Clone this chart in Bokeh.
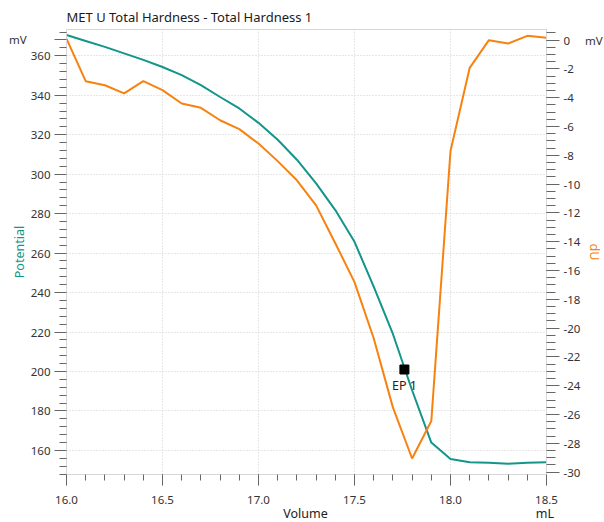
from bokeh.plotting import figure
from bokeh.models import (Range1d, LinearAxis, SingleIntervalTicker, FixedTicker,
                          PrintfTickFormatter, Label, ColumnDataSource)
from bokeh.embed import file_html
from bokeh.resources import INLINE

# ---- data ----
volume = [16.0, 16.1, 16.2, 16.3, 16.4, 16.5, 16.6, 16.7, 16.8, 16.9,
          17.0, 17.1, 17.2, 17.3, 17.4, 17.5, 17.6, 17.7, 17.8, 17.9,
          18.0, 18.1, 18.2, 18.3, 18.4, 18.5]
potential = [370.5, 367.5, 364.5, 361.2, 357.9, 354.3, 350.2, 345.1, 339.1, 333.3,
             326.0, 317.4, 307.3, 295.3, 281.8, 265.7, 243.0, 219.0, 190.5, 164.0,
             155.7, 154.0, 153.8, 153.3, 153.7, 154.0]
dU = [0.1, -2.85, -3.13, -3.7, -2.85, -3.47, -4.4, -4.7, -5.56, -6.18,
      -7.18, -8.4, -9.73, -11.47, -14.1, -16.8, -20.7, -25.5, -29.05, -26.45,
      -7.7, -1.92, 0.0, -0.23, 0.3, 0.16]
ep_volume = [17.76]
ep_potential = [201.0]
ep_label = "EP 1"
title_text = "MET U Total Hardness - Total Hardness  1"
x_label, x_unit = "Volume", "mL"
y_label, y_unit = "Potential", "mV"
y2_label, y2_unit = "dU", "mV"

TEAL = "#12958a"
ORANGE = "#f7820f"
FONT = "Noto Sans"
TXT = "#222222"
NB = "\u00a0"

p = figure(frame_width=480, frame_height=445, output_backend="svg", toolbar_location=None,
           x_range=Range1d(16.0, 18.5), y_range=Range1d(147.8, 373.3),
           min_border_left=66, min_border_top=29, min_border_right=10, min_border_bottom=10)
p.outline_line_color = "#d8d8d8"
p.background_fill_color = "white"
p.border_fill_color = "white"

p.title.text = title_text
p.title.align = "left"
p.title.text_font = FONT
p.title.text_font_size = "13px"
p.title.text_font_style = "normal"
p.title.text_color = "#1a1a1a"
p.title.standoff = 7

p.extra_y_ranges = {"dU": Range1d(-30.16, 0.74)}

src = ColumnDataSource(dict(volume=volume, potential=potential, dU=dU))
p.line("volume", "potential", source=src, color=TEAL, line_width=2)
p.line("volume", "dU", source=src, color=ORANGE, line_width=2, y_range_name="dU")
p.scatter(ep_volume, ep_potential, marker="square", size=9, color="black")
p.add_layout(Label(x=ep_volume[0], y=197.0, text=ep_label, text_align="center",
                   text_baseline="top", text_font=FONT, text_font_size="12.5px",
                   text_color=TXT))

# x axis (unit placed on the axis-label row, at the right end)
xa = p.xaxis[0]
xa.ticker = SingleIntervalTicker(interval=0.5, num_minor_ticks=5)
xa.formatter = PrintfTickFormatter(format="%.1f")
xa.axis_label = NB * 69 + x_label + NB * 64 + x_unit

# left axis (unit shown as an extra tick label at the top)
left_major = list(range(160, 361, 20)) + [368]
left_minor = [v for v in range(148, 373, 4) if v not in left_major]
ya = p.yaxis[0]
ya.ticker = FixedTicker(ticks=left_major, minor_ticks=left_minor)
ya.formatter = PrintfTickFormatter(format="%d")
ya.major_label_overrides = {368: y_unit + NB * 8}
ya.axis_label = y_label
ya.axis_label_text_color = TEAL
p.ygrid.ticker = SingleIntervalTicker(interval=20)

# right axis
ra = LinearAxis(y_range_name="dU", ticker=SingleIntervalTicker(interval=2, num_minor_ticks=4),
                axis_label=y2_label, formatter=PrintfTickFormatter(format="%d"))
ra.major_label_overrides = {0: "0" + NB * 5 + y2_unit}
ra.axis_label_text_color = ORANGE
p.add_layout(ra, "right")

for ax in [xa, ya, ra]:
    ax.axis_line_color = "#d8d8d8"
    ax.major_tick_line_color = "#666666"
    ax.minor_tick_line_color = "#666666"
    ax.major_tick_in = 0
    ax.minor_tick_in = 0
    ax.major_label_text_font = FONT
    ax.major_label_text_font_size = "11.5px"
    ax.major_label_text_color = "#333333"
    ax.axis_label_text_font = FONT
    ax.axis_label_text_font_size = "12.5px"
    ax.axis_label_text_font_style = "normal"
xa.axis_label_text_color = TXT

xa.major_tick_out, xa.minor_tick_out = 11, 6
xa.major_label_standoff = 10
xa.axis_label_standoff = -2

ya.major_tick_out, ya.minor_tick_out = 12, 7
ya.major_label_standoff = 4
ya.axis_label_standoff = -22

ra.major_tick_out, ra.minor_tick_out = 13, 9
ra.major_label_standoff = 4
ra.axis_label_standoff = -20

p.xgrid.grid_line_color = "#cfcfcf"
p.xgrid.grid_line_dash = "1 2"
p.ygrid.grid_line_color = "#cfcfcf"
p.ygrid.grid_line_dash = "1 2"

open("out.html", "w").write(file_html(p, INLINE))
